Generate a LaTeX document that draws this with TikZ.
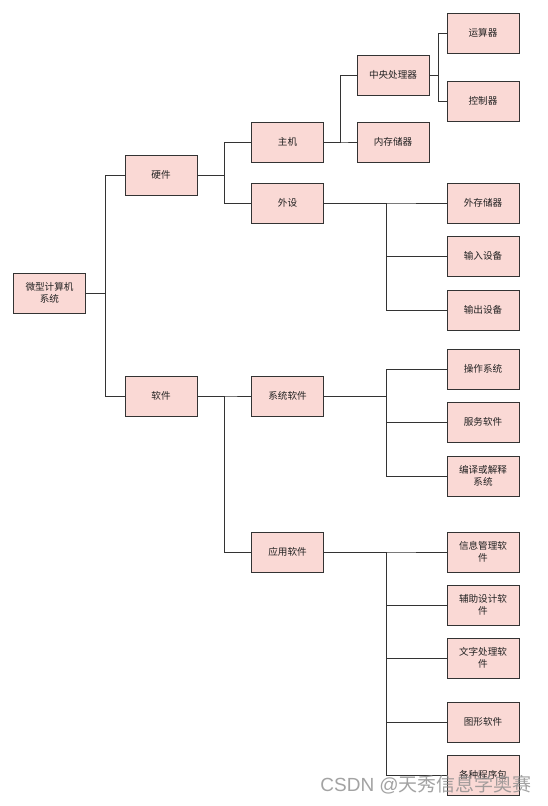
\documentclass[tikz,border=0pt]{standalone}
\usepackage{fontspec}
\newfontfamily\cjk{Noto Sans CJK SC}
\definecolor{boxfill}{HTML}{FAD9D5}
\definecolor{boxline}{HTML}{333333}
\definecolor{txt}{HTML}{222222}
\definecolor{wmgray}{HTML}{8C8C8C}
\begin{document}
\begin{tikzpicture}[x=1pt,y=-1pt,
  bx/.style={draw=boxline,fill=boxfill,line width=0.9pt,minimum width=72pt,minimum height=40pt,
    inner sep=1pt,align=center,font=\cjk\fontsize{9.6}{12}\selectfont,text=txt},
  ln/.style={draw=boxline,line width=0.9pt}]
\useasboundingbox (0,0) rectangle (547,806);
\fill[white] (0,0) rectangle (547,806);
% nodes
\node[bx] (root) at (49.5,293) {微型计算机\\系统};
\node[bx] (hw) at (161,175) {硬件};
\node[bx] (sw) at (161,396) {软件};
\node[bx] (zj) at (287.5,142) {主机};
\node[bx] (ws) at (287.5,203) {外设};
\node[bx] (xtrj) at (287.5,396) {系统软件};
\node[bx] (yyrj) at (287.5,552) {应用软件};
\node[bx] (cpu) at (393,75) {中央处理器};
\node[bx] (nc) at (393,142) {内存储器};
\node[bx] (ysq) at (483,33) {运算器};
\node[bx] (kzq) at (483,101) {控制器};
\node[bx] (wcc) at (483,203) {外存储器};
\node[bx] (srsb) at (483,256) {输入设备};
\node[bx] (scsb) at (483,310) {输出设备};
\node[bx] (czxt) at (483,369) {操作系统};
\node[bx] (fwrj) at (483,422) {服务软件};
\node[bx] (byjs) at (483,476) {编译或解释\\系统};
\node[bx] (xxgl) at (483,552) {信息管理软\\件};
\node[bx] (fzsj) at (483,605) {辅助设计软\\件};
\node[bx] (wzcl) at (483,658) {文字处理软\\件};
\node[bx] (txrj) at (483,722) {图形软件};
\node[bx] (gzcx) at (483,775) {各种程序包};
% junction coordinates
\coordinate (j0) at (105,293);
\coordinate (j1) at (224,175);
\coordinate (j2) at (340,142);
\coordinate (j3) at (438,75);
\coordinate (j4) at (386,203);
\coordinate (j5) at (224,396);
\coordinate (j6) at (386,396);
\coordinate (j7) at (386,552);
% connectors
\foreach \a/\j/\b in {root/j0/hw,root/j0/sw,hw/j1/zj,hw/j1/ws,zj/j2/cpu,zj/j2/nc,
  cpu/j3/ysq,cpu/j3/kzq,ws/j4/wcc,ws/j4/srsb,ws/j4/scsb,sw/j5/xtrj,sw/j5/yyrj,
  xtrj/j6/czxt,xtrj/j6/fwrj,xtrj/j6/byjs,yyrj/j7/xxgl,yyrj/j7/fzsj,yyrj/j7/wzcl,
  yyrj/j7/txrj,yyrj/j7/gzcx}
  \draw[ln] (\a.east) -- (\a.east -| \j) |- (\b.west);
% watermark
\node[anchor=east,text=wmgray,opacity=0.8,font=\fontspec{Liberation Sans}\fontsize{19}{22}\selectfont,inner sep=0pt] (wm) at (532,785) {CSDN @\cjk 天秀信息学奥赛};
\end{tikzpicture}
\end{document}
